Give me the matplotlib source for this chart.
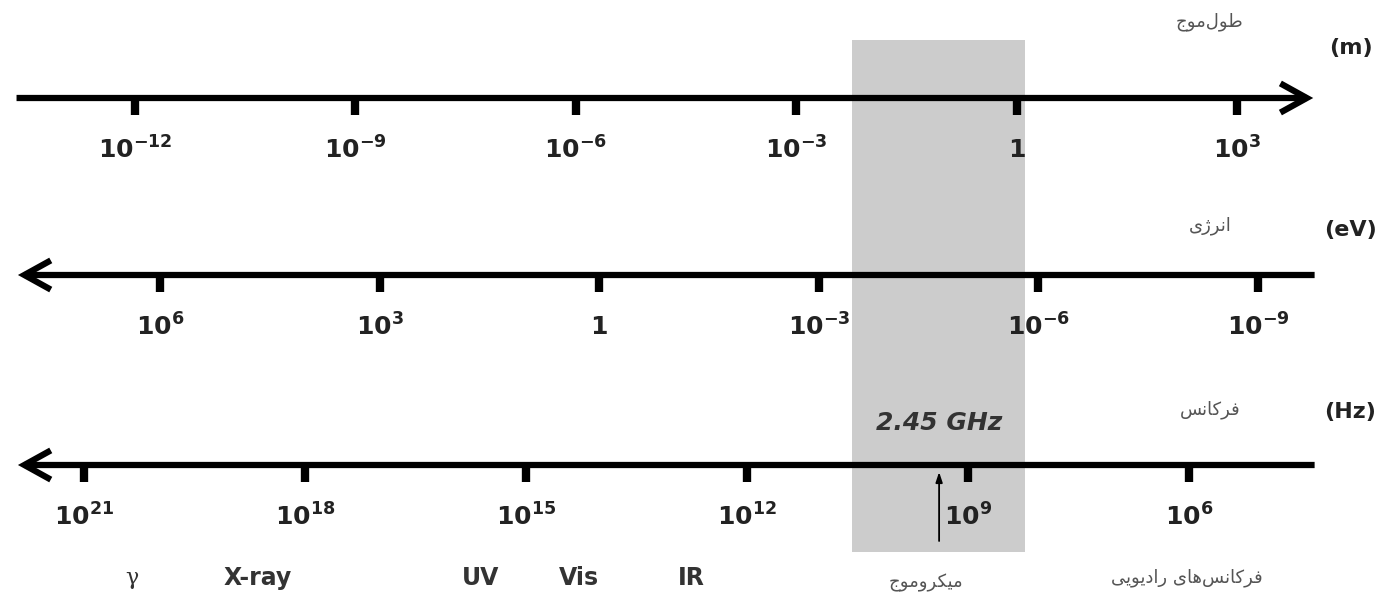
import numpy as np
import matplotlib
matplotlib.use('Agg')
import matplotlib.pyplot as plt

plt.rcParams['font.family'] = ['DejaVu Sans']
plt.rcParams['mathtext.fontset'] = 'dejavusans'

# exponents (powers of ten) on each scale
wavelength_exp = [-12, -9, -6, -3, 0, 3]      # m
energy_exp = [6, 3, 0, -3, -6, -9]            # eV
frequency_exp = [21, 18, 15, 12, 9, 6]        # Hz

# band names below the frequency scale, placed at log10(Hz)
band_names = ['γ', 'X-ray', 'UV', 'Vis', 'IR']
band_pos = [20.35, 18.64, 15.61, 14.28, 12.76]
microwave_label = 'میکروموج'
microwave_pos = 9.57
radio_label = 'فرکانس‌های رادیویی'
radio_pos = 6.03

# microwave window (log10 Hz) and the oven frequency
microwave_band = (10.57, 8.22)
oven_freq = 2.45e9

scale_titles = ['طول‌موج', 'انرژی', 'فرکانس']
scale_units = ['(m)', '(eV)', '(Hz)']


# simple Persian shaping: pick presentation forms, then reverse for display
FORMS = {
    'ا': ('\ufe8d', '\ufe8e'), 'د': ('\ufea9', '\ufeaa'),
    'ر': ('\ufead', '\ufeae'), 'ژ': ('\ufb8a', '\ufb8b'),
    'و': ('\ufeed', '\ufeee'),
    'ج': ('\ufe9d', '\ufe9e', '\ufe9f', '\ufea0'),
    'س': ('\ufeb1', '\ufeb2', '\ufeb3', '\ufeb4'),
    'ط': ('\ufec1', '\ufec2', '\ufec3', '\ufec4'),
    'ف': ('\ufed1', '\ufed2', '\ufed3', '\ufed4'),
    'ک': ('\ufb8e', '\ufb8f', '\ufb90', '\ufb91'),
    'ل': ('\ufedd', '\ufede', '\ufedf', '\ufee0'),
    'م': ('\ufee1', '\ufee2', '\ufee3', '\ufee4'),
    'ن': ('\ufee5', '\ufee6', '\ufee7', '\ufee8'),
    'ه': ('\ufee9', '\ufeea', '\ufeeb', '\ufeec'),
    'ی': ('\ufbfc', '\ufbfd', '\ufbfe', '\ufbff'),
}


def persian(text):
    out = []
    for i, c in enumerate(text):
        if c not in FORMS:
            if c != '\u200c':
                out.append(c)
            continue
        prev = text[i - 1] if i > 0 else ''
        nxt = text[i + 1] if i + 1 < len(text) else ''
        join_prev = prev in FORMS and len(FORMS[prev]) == 4
        join_next = len(FORMS[c]) == 4 and nxt in FORMS
        f = FORMS[c]
        if join_prev and join_next:
            out.append(f[3])
        elif join_prev:
            out.append(f[1])
        elif join_next:
            out.append(f[2])
        else:
            out.append(f[0])
    return ''.join(reversed(out))


def power_label(e):
    if e == 0:
        return r'$\mathbf{1}$'
    return r'$\mathbf{10^{%d}}$' % e


fig = plt.figure(figsize=(13.78, 6.07), dpi=100)

# x limits in log10 units so that each scale spans the whole width
rows = [
    dict(exp=wavelength_exp, xlim=(-13.838, 4.919), y=98, right=True),
    dict(exp=energy_exp, xlim=(8.186, -10.64), y=275, right=False),
    dict(exp=frequency_exp, xlim=(22.14, 3.43), y=465, right=False),
]
title_y = [22, 226, 410]
unit_y = [48, 230, 412]

# frequency axis first so the grey window sits beneath everything
axes = {}
for idx in [2, 0, 1]:
    ax = fig.add_axes([0, 0, 1, 1])
    ax.set_xlim(*rows[idx]['xlim'])
    ax.set_ylim(607, 0)
    ax.patch.set_alpha(0)
    ax.axis('off')
    axes[idx] = ax

ax_f = axes[2]
ax_f.axvspan(microwave_band[0], microwave_band[1],
             ymin=(607 - 552) / 607, ymax=(607 - 40) / 607,
             color='#cccccc', lw=0, zorder=0)

for idx, row in enumerate(rows):
    ax = axes[idx]
    y = row['y']
    if row['right']:
        start, end = 0.012, 0.953
    else:
        start, end = 0.954, 0.013
    ax.annotate('', xy=(end, y), xytext=(start, y),
                xycoords=('axes fraction', 'data'),
                textcoords=('axes fraction', 'data'),
                arrowprops=dict(arrowstyle='->,head_length=1.9,head_width=1.05',
                                lw=4.5, color='black', shrinkA=0, shrinkB=0,
                                joinstyle='miter', capstyle='butt'))
    ax.vlines(row['exp'], y, y + 17, color='black', lw=6, zorder=3)
    for e in row['exp']:
        ax.text(e, y + 52, power_label(e), ha='center', va='center',
                fontsize=18, color='#222222')
    ax.text(0.878, title_y[idx], persian(scale_titles[idx]),
            transform=ax.get_yaxis_transform(), ha='center', va='center',
            fontsize=13, color='#555555')
    ax.text(0.98, unit_y[idx], scale_units[idx],
            transform=ax.get_yaxis_transform(), ha='center', va='center',
            fontsize=16, fontweight='bold', color='#222222')

# names of spectral regions
for name, pos in zip(band_names, band_pos):
    if name == 'γ':
        ax_f.text(pos, 578, name, ha='center', va='center', fontsize=16,
                  family='DejaVu Serif', color='#333333')
    else:
        ax_f.text(pos, 578, name, ha='center', va='center', fontsize=17,
                  fontweight='bold', color='#333333')
ax_f.text(microwave_pos, 583, persian(microwave_label), ha='center',
          va='center', fontsize=13, color='#555555')
ax_f.text(radio_pos, 578, persian(radio_label), ha='center',
          va='center', fontsize=13, color='#555555')

# 2.45 GHz marker
f_exp = np.log10(oven_freq)
ax_f.text(f_exp, 423, '2.45 GHz', ha='center', va='center', fontsize=18,
          fontweight='bold', fontstyle='italic', color='#333333')
ax_f.annotate('', xy=(f_exp, 472), xytext=(f_exp, 541),
              arrowprops=dict(arrowstyle='-|>,head_length=0.6,head_width=0.2',
                              lw=1.3, color='black', shrinkA=0, shrinkB=0))

fig.savefig('out.png', dpi=100)
